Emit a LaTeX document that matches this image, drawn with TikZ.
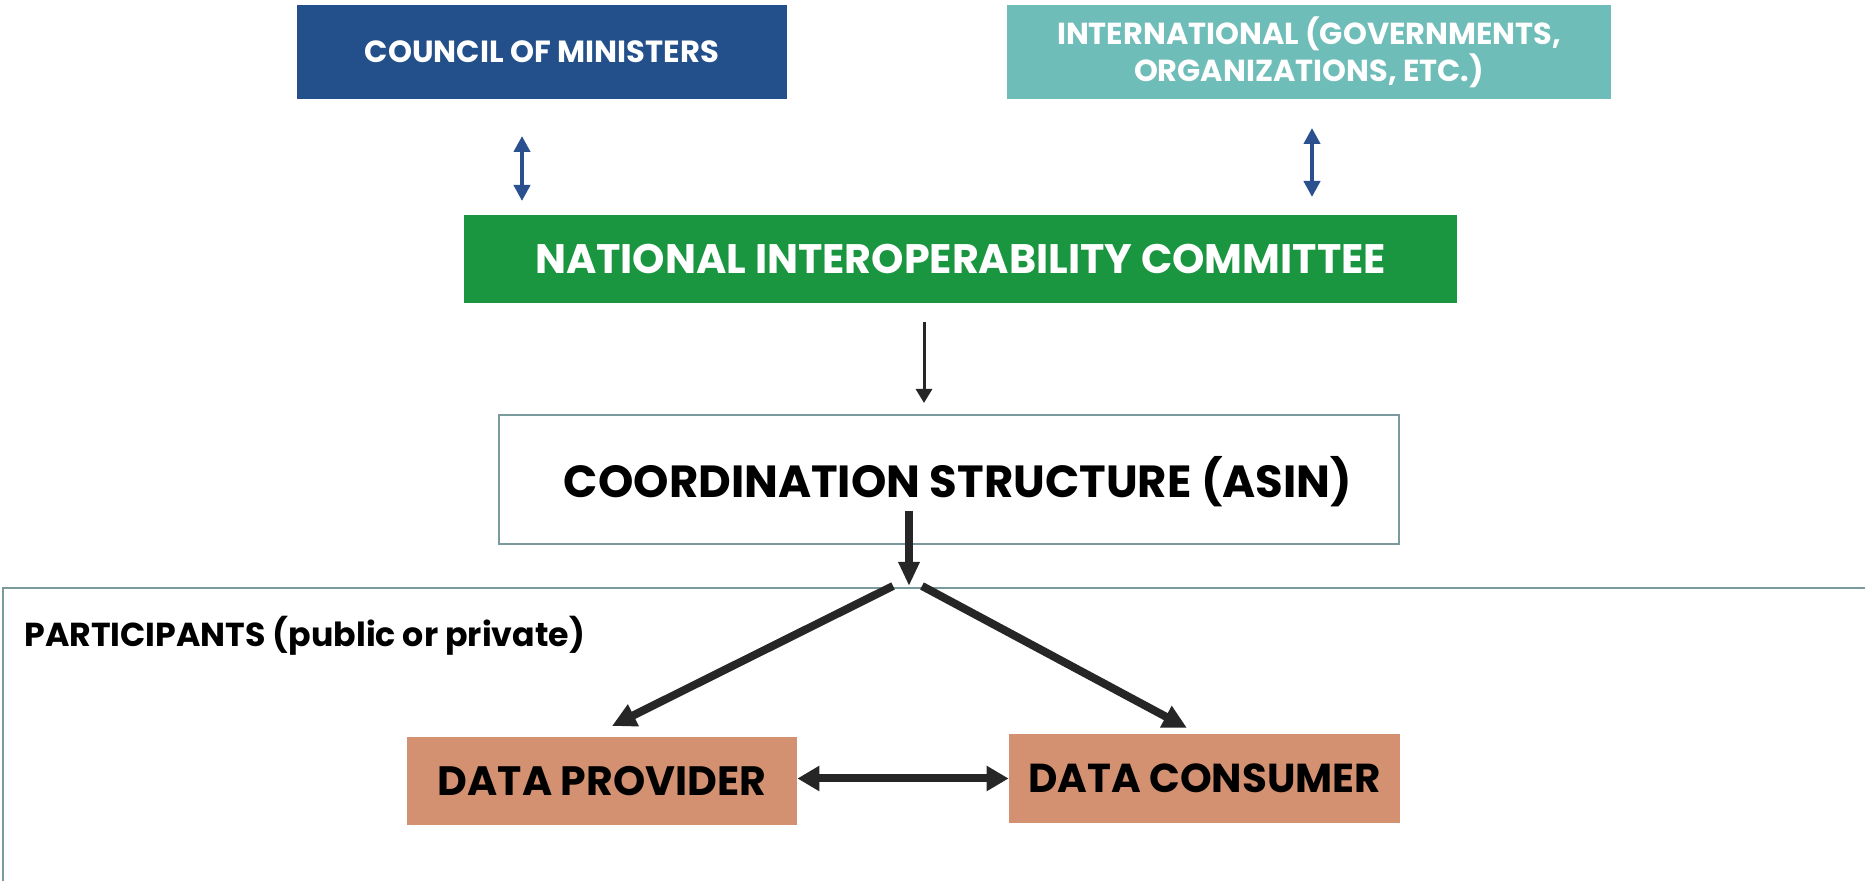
\documentclass[tikz,border=0pt]{standalone}
\usepackage{fontspec}
\setmainfont{Poppins}
\usetikzlibrary{arrows.meta}
\definecolor{cblue}{HTML}{23508A}
\definecolor{cteal}{HTML}{6FBDB8}
\definecolor{cgreen}{HTML}{1A9641}
\definecolor{cgrey}{HTML}{7A9A9E}
\definecolor{corange}{HTML}{D49172}
\definecolor{cdark}{HTML}{262626}
\definecolor{carrow}{HTML}{2A5090}
\tikzset{
  box/.style={draw=none,inner sep=0pt,align=center,font=\bfseries},
  bluearrow/.style={draw=carrow,line width=2pt,{Triangle[length=8pt,width=8pt]}-{Triangle[length=8pt,width=8pt]}},
  thinarrow/.style={draw=cdark,line width=1.5pt,-{Triangle[length=7pt,width=8pt]}},
  thickarrow/.style={draw=cdark,line width=4pt,-{Triangle[length=12pt,width=10pt]}},
  diagarrow/.style={draw=cdark,line width=4pt,-{Triangle[length=12pt,width=11.5pt]}},
  dblarrow/.style={draw=cdark,line width=4pt,{Triangle[length=11pt,width=12pt]}-{Triangle[length=11pt,width=12pt]}},
}
\begin{document}
\begin{tikzpicture}[x=0.5pt,y=-0.5pt]
\useasboundingbox[fill=white] (0,0) rectangle (1865,881);
% boxes
\node[box,fill=cblue,text=white,minimum width=245pt,minimum height=47pt,font=\bfseries\fontsize{15.3pt}{18pt}\selectfont] (council) at (542,52) {COUNCIL OF MINISTERS};
\node[box,fill=cteal,text=white,minimum width=302pt,minimum height=47pt,font=\bfseries\fontsize{15.2pt}{18.5pt}\selectfont] (intl) at (1309,52) {INTERNATIONAL (GOVERNMENTS,\\ORGANIZATIONS, ETC.)};
\node[box,fill=cgreen,text=white,minimum width=496.5pt,minimum height=44pt,font=\bfseries\fontsize{20.6pt}{22pt}\selectfont] (nic) at (960.5,259) {NATIONAL INTEROPERABILITY COMMITTEE};
\node[draw=cgrey,line width=1pt,minimum width=450pt,minimum height=64.5pt,inner sep=0pt] (coord) at (949,480) {};
\node[box,text=black,font=\bfseries\fontsize{22.5pt}{24pt}\selectfont] (coordtext) at (958,482) {COORDINATION STRUCTURE (ASIN)};
\node[draw=cgrey,line width=1pt,minimum width=940pt,minimum height=160pt,inner sep=0pt] (part) at (943,748) {};
\node[box,text=black,anchor=west,font=\bfseries\fontsize{16.6pt}{18pt}\selectfont] (parttext) at (24,636) {PARTICIPANTS (public or private)};
\node[box,fill=corange,text=black,minimum width=195pt,minimum height=44pt,font=\bfseries\fontsize{20.5pt}{22pt}\selectfont] (prov) at (602,781) {DATA PROVIDER};
\node[box,fill=corange,text=black,minimum width=195.5pt,minimum height=44.5pt,font=\bfseries\fontsize{20.2pt}{22pt}\selectfont] (cons) at (1204.5,778.5) {DATA CONSUMER};
% free-end coordinates
\coordinate (c1) at (522,136);
\coordinate (c2) at (522,201);
\coordinate (i1) at (1312,128);
\coordinate (i2) at (1312,197);
\coordinate (n1) at (924,322);
\coordinate (n2) at (924,403);
\coordinate (s1) at (909,511);
\coordinate (s2) at (909,586);
\coordinate (l1) at (893,586);
\coordinate (l2) at (612,726);
\coordinate (r1) at (922,586);
\coordinate (r2) at (1187,728);
% connectors
\draw[bluearrow] (c1) -- (c2);
\draw[bluearrow] (i1) -- (i2);
\draw[thinarrow] (n1) -- (n2);
\draw[thickarrow] (s1) -- (s2);
\draw[diagarrow] (l1) -- (l2);
\draw[diagarrow] (r1) -- (r2);
\draw[dblarrow] (prov.east |- cons.west) -- (cons.west);
\end{tikzpicture}
\end{document}
